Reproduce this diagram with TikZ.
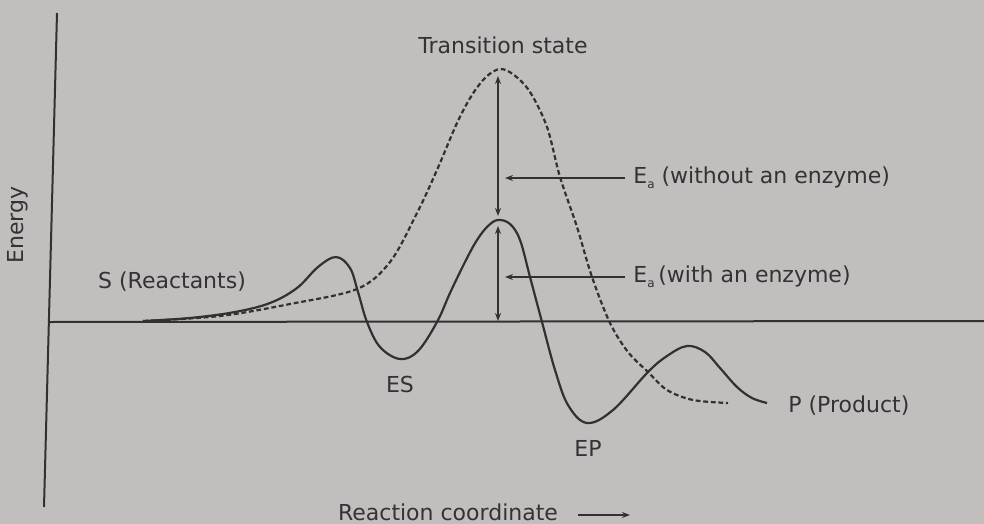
\documentclass[tikz,border=0pt]{standalone}
\usepackage{fontspec}
\setmainfont{DejaVu Sans}
\usetikzlibrary{arrows.meta}
\definecolor{paper}{RGB}{194,190,190}
\definecolor{ink}{RGB}{52,48,50}
\definecolor{txt}{RGB}{52,50,52}
\newcommand{\Ea}{E\raisebox{-0.45ex}{\fontsize{6pt}{6pt}\selectfont a}}
\tikzset{
  axisline/.style={draw=ink, line width=1pt},
  solidcurve/.style={draw=ink, line width=1.1pt, line join=round},
  dashcurve/.style={draw=ink, line width=1.1pt, dash pattern=on 2.4pt off 1.4pt},
  pointer/.style={draw=ink, line width=0.8pt, -{Stealth[length=4pt,width=3pt]}},
  dpointer/.style={draw=ink, line width=0.8pt, {Stealth[length=4pt,width=3pt]}-{Stealth[length=4pt,width=3pt]}},
  lbl/.style={text=txt, font=\fontsize{11pt}{13pt}\selectfont, inner sep=0pt}
}
\begin{document}
\begin{tikzpicture}[x=0.5pt,y=-0.5pt]
\fill[paper] (0,0) rectangle (984,524);
\useasboundingbox (0,0) rectangle (984,524);
% axes
\coordinate (ytop) at (57,13);
\coordinate (ybot) at (44,507);
\coordinate (xl) at (50,322);
\coordinate (xr) at (984,321);
\draw[axisline] (ytop) -- (ybot);
\draw[axisline] (xl) -- (xr);
% dashed curve (without enzyme)
\draw[dashcurve] plot[smooth, tension=0.55] coordinates {
 (143,321) (220,316) (290,304) (357,289) (390,262) (417,213) (437,170)
 (457,123) (472,95) (486,77) (500,69) (514,75) (530,92) (547,127)
 (560,177) (577,227) (592,277) (610,323) (628,352) (648,372) (667,390) (693,400) (728,403)};
% solid curve (with enzyme)
\draw[solidcurve] plot[smooth, tension=0.6] coordinates {
 (143,321) (190,318) (235,312) (270,303) (297,288) (318,267) (336,257)
 (350,268) (358,292) (367,322) (380,347) (400,359) (418,351) (437,322)
 (450,293) (465,262) (477,240) (488,226) (498,220) (510,224) (520,240)
 (530,277) (542,322) (555,370) (568,405) (587,423) (613,410) (648,372)
 (667,356) (687,346) (705,352) (720,368) (737,387) (752,398) (767,403)};
% vertical energy arrows
\coordinate (tstop) at (498,76);
\coordinate (espeakA) at (498,216);
\coordinate (espeakB) at (498,226);
\coordinate (base) at (498,321);
\draw[dpointer] (espeakA) -- (tstop);
\draw[dpointer] (espeakB) -- (base);
% labels
\node[lbl] (ts) at (503,45) {Transition state};
\node[lbl, anchor=west] (eaw) at (633,178) {\Ea{} (without an enzyme)};
\node[lbl, anchor=west] (eae) at (633,277) {\Ea{}\,(with an enzyme)};
\coordinate (eawtip) at (505,178);
\coordinate (eaetip) at (505,277);
\draw[pointer] ([xshift=-4pt]eaw.west) -- (eawtip);
\draw[pointer] ([xshift=-4pt]eae.west) -- (eaetip);
\node[lbl] (s) at (172,282) {S (Reactants)};
\node[lbl] (es) at (400,384) {ES};
\node[lbl] (ep) at (588,448) {EP};
\node[lbl, anchor=west] (p) at (788,406) {P (Product)};
\node[lbl] (rc) at (448,512) {Reaction coordinate};
\coordinate (rcstart) at (578,515);
\coordinate (rcend) at (630,515);
\draw[pointer] (rcstart) -- (rcend);
\node[lbl, rotate=90] (en) at (18,225) {Energy};
\end{tikzpicture}
\end{document}
